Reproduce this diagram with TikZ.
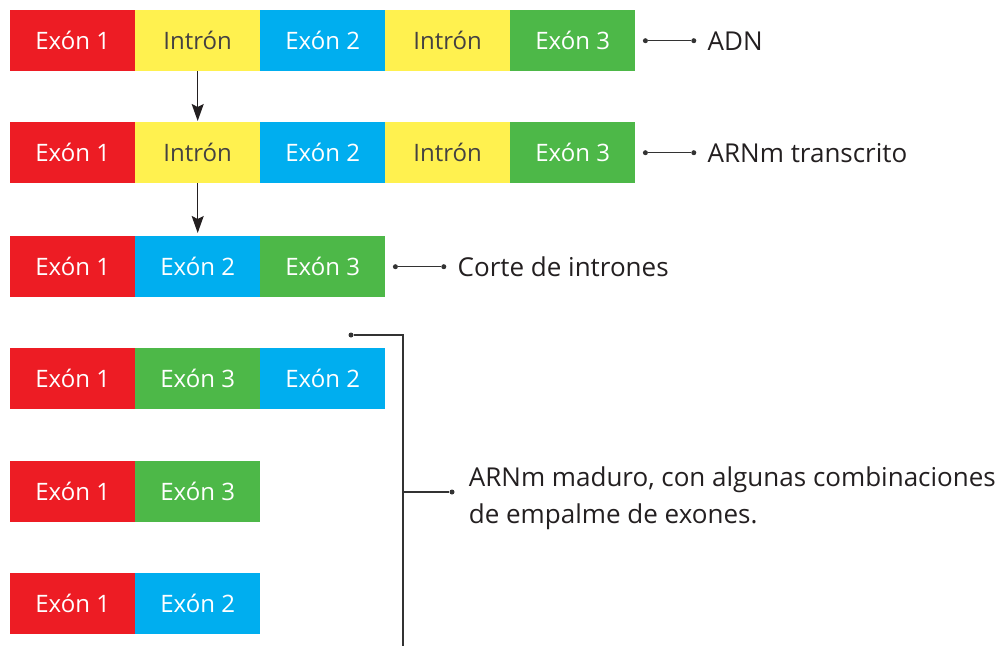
\documentclass[tikz,border=0pt]{standalone}
\usepackage{fontspec}
\setmainfont{Open Sans}
\usetikzlibrary{positioning,arrows.meta,calc}
\definecolor{exred}{HTML}{ED1C24}
\definecolor{exyel}{HTML}{FFF14F}
\definecolor{exblue}{HTML}{00AEEF}
\definecolor{exgreen}{HTML}{4DB848}
\definecolor{ink}{HTML}{231F20}
\definecolor{wire}{HTML}{333333}

\begin{document}
\begin{tikzpicture}[x=1pt, y=1pt,
    seg/.style={fill=#1, minimum width=125pt, minimum height=61pt, inner sep=0pt, anchor=north west,
      text=white, font=\fontsize{24}{28}\selectfont},
    intron/.style={seg=exyel, text=ink!85},
    lbl/.style={text=ink, font=\fontsize{26}{37}\selectfont, inner sep=0pt, anchor=west},
    wire/.style={draw=wire, line width=1.3pt},
    step arrow/.style={draw=ink, fill=ink, line width=1.3pt, -{Stealth[length=17pt,width=12pt,inset=3pt]}},
    dot/.style={fill=wire, circle, inner sep=0pt, minimum size=5pt}]
  \useasboundingbox (0,0) rectangle (1004,-646);
  % ADN
  \node[seg=exred]   (b1-1) at (10,-10)  {Exón 1};
  \node[intron]      (b1-2) at (135,-10) {Intrón};
  \node[seg=exblue]  (b1-3) at (260,-10) {Exón 2};
  \node[intron]      (b1-4) at (385,-10) {Intrón};
  \node[seg=exgreen] (b1-5) at (510,-10) {Exón 3};
  % transcrito
  \node[seg=exred]   (b2-1) at (10,-122)  {Exón 1};
  \node[intron]      (b2-2) at (135,-122) {Intrón};
  \node[seg=exblue]  (b2-3) at (260,-122) {Exón 2};
  \node[intron]      (b2-4) at (385,-122) {Intrón};
  \node[seg=exgreen] (b2-5) at (510,-122) {Exón 3};
  % sin intrones
  \node[seg=exred]   (b3-1) at (10,-236)  {Exón 1};
  \node[seg=exblue]  (b3-2) at (135,-236) {Exón 2};
  \node[seg=exgreen] (b3-3) at (260,-236) {Exón 3};
  % combinaciones
  \node[seg=exred]   (b4-1) at (10,-348)  {Exón 1};
  \node[seg=exgreen] (b4-2) at (135,-348) {Exón 3};
  \node[seg=exblue]  (b4-3) at (260,-348) {Exón 2};
  \node[seg=exred]   (b5-1) at (10,-461)  {Exón 1};
  \node[seg=exgreen] (b5-2) at (135,-461) {Exón 3};
  \node[seg=exred]   (b6-1) at (10,-573)  {Exón 1};
  \node[seg=exblue]  (b6-2) at (135,-573) {Exón 2};

  \draw[step arrow] (b1-2.south) -- ([yshift=1pt]b2-2.north);
  \draw[step arrow] (b2-2.south) -- ([yshift=3pt]b3-2.north);

  % etiquetas
  \foreach \r/\t in {1/ADN, 2/ARNm transcrito} {
    \node[dot] (p\r) at ($(b\r-5.east)+(10,0)$) {};
    \node[dot, right=43pt of p\r] (q\r) {};
    \draw[wire] (p\r) -- (q\r);
    \node[lbl, right=11pt of q\r] (t\r) {\t};
  }
  \node[dot] (p3) at ($(b3-3.east)+(10,0)$) {};
  \node[dot, right=43pt of p3] (q3) {};
  \draw[wire] (p3) -- (q3);
  \node[lbl, right=11pt of q3] (t3) {Corte de intrones};

  \node[dot] (top) at (351,-335) {};
  \coordinate (knee) at (403,-335);
  \coordinate (foot) at (403,-646);
  \coordinate (mid) at (403,-492);
  \node[dot] (tip) at (452,-492) {};
  \draw[wire] (top) -- (knee) -- (foot);
  \draw[wire] (mid) -- (tip);
  \node[lbl, align=left, right=14pt of tip, yshift=-6pt] (t4)
    {ARNm maduro, con algunas combinaciones\\de empalme de exones.};
\end{tikzpicture}
\end{document}
